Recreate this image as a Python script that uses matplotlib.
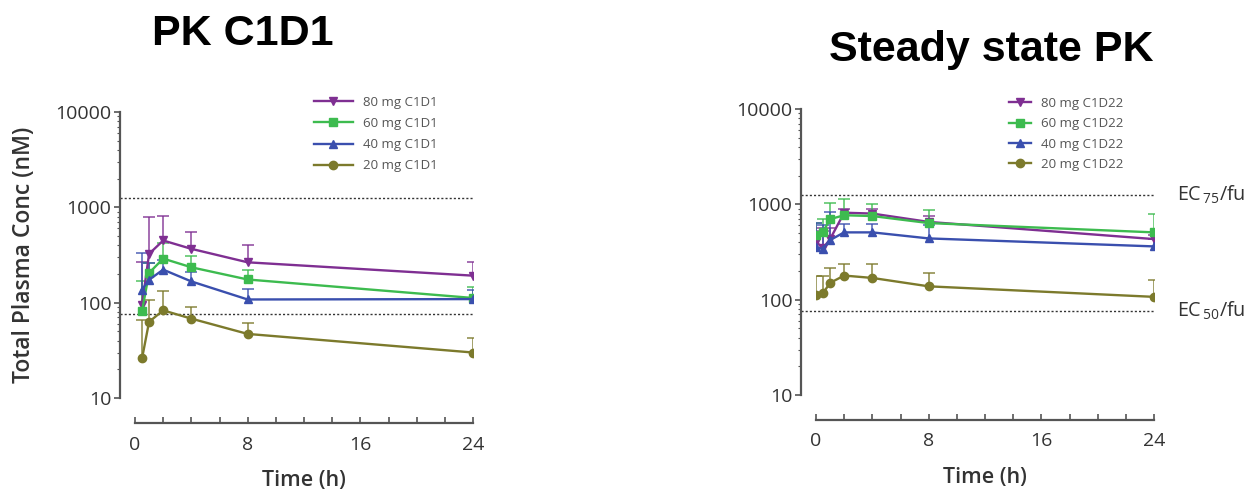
import matplotlib
matplotlib.use("Agg")
import matplotlib.pyplot as plt
from matplotlib.ticker import LogLocator, NullFormatter, MultipleLocator, FixedLocator
import numpy as np

plt.rcParams['font.family'] = ['Open Sans', 'DejaVu Sans']
plt.rcParams['mathtext.fontset'] = 'custom'
plt.rcParams['mathtext.rm'] = 'Open Sans'
plt.rcParams['mathtext.it'] = 'Open Sans'

# ---------------- data ----------------
time_c1d1 = [0.5, 1, 2, 4, 8, 24]
c1d1_80 = [95, 325, 449, 367, 265, 192]
c1d1_80_up = [264, 790, 810, 550, 400, 265]
c1d1_60 = [82, 205, 290, 235, 175, 112]
c1d1_60_up = [167, 260, 425, 307, 222, 146]
c1d1_40 = [137, 174, 222, 167, 108, 109]
c1d1_40_up = [328, 260, 280, 210, 140, 135]
c1d1_20 = [26, 63, 83, 68, 47, 30]
c1d1_20_up = [66, 107, 131, 91, 61, 43]

time_c1d22 = [0, 0.5, 1, 2, 4, 8, 24]
c1d22_80 = [405, 346, 432, 817, 800, 654, 432]
c1d22_80_up = [560, 520, 560, 900, 888, 754, 480]
c1d22_60 = [476, 515, 700, 768, 754, 636, 508]
c1d22_60_up = [644, 710, 1040, 1144, 1000, 865, 787]
c1d22_40 = [354, 340, 422, 508, 508, 439, 362]
c1d22_40_up = [644, 609, 830, 620, 620, 600, 430]
c1d22_20 = [113, 117, 150, 179, 169, 138, 107]
c1d22_20_up = [177, 177, 214, 237, 237, 190, 159]

ec75_fu = 1250
ec50_fu = 76

labels_c1d1 = ['80 mg C1D1', '60 mg C1D1', '40 mg C1D1', '20 mg C1D1']
labels_c1d22 = ['80 mg C1D22', '60 mg C1D22', '40 mg C1D22', '20 mg C1D22']

colors = ['#7f2f92', '#3dbb4f', '#3a4fae', '#7c7a2c']
markers = ['v', 's', '^', 'o']
msizes = [6, 6, 6, 6]

# ---------------- figure ----------------
fig = plt.figure(figsize=(12.51, 4.92), dpi=100)
W, H = 1251, 492

def make_ax(x0, x1, y_top, y_bot):
    return fig.add_axes([x0 / W, 1 - y_bot / H, (x1 - x0) / W, (y_bot - y_top) / H])

axL = make_ax(135, 473, 112, 398)
axR = make_ax(816, 1154, 109, 395)

def style(ax, ylabel):
    ax.set_yscale('log')
    ax.set_ylim(10, 10000)
    ax.set_xlim(0, 24)
    for s in ['top', 'right']:
        ax.spines[s].set_visible(False)
    ax.spines['left'].set_position(('outward', 11))
    ax.spines['bottom'].set_position(('outward', 18))
    for s in ['left', 'bottom']:
        ax.spines[s].set_color('#555555')
        ax.spines[s].set_linewidth(1.6)
    ax.yaxis.set_major_locator(FixedLocator([10, 100, 1000, 10000]))
    ax.yaxis.set_minor_locator(LogLocator(base=10, subs=np.arange(2, 10)))
    ax.yaxis.set_minor_formatter(NullFormatter())
    ax.set_yticklabels(['10', '100', '1000', '10000'])
    ax.xaxis.set_major_locator(FixedLocator([0, 8, 16, 24]))
    ax.xaxis.set_minor_locator(MultipleLocator(2))
    ax.tick_params(axis='y', which='major', direction='out', length=4, width=1.2,
                   color='#555555', labelsize=14, labelcolor='#333333', pad=2)
    ax.tick_params(axis='y', which='minor', direction='out', length=2, width=0.8,
                   color='#555555')
    ax.tick_params(axis='x', which='both', direction='in', length=4, width=1.2,
                   color='#555555', labelsize=14, labelcolor='#333333', pad=9)
    ax.set_xlabel('Time (h)', fontsize=15.5, fontweight='semibold', color='#333333',
                  labelpad=12)
    if ylabel:
        ax.set_ylabel(ylabel, fontsize=16.5, fontweight='semibold', color='#333333',
                      labelpad=14)
    ax.patch.set_alpha(0)

def draw(ax, t, series, ups, labels):
    for (y, up, c, m, ms, lab) in zip(series, ups, colors, markers, msizes, labels):
        ax.vlines(t, y, up, colors=c, linewidth=1.4, alpha=0.7, zorder=2)
        ax.plot(t, up, ls='none', marker='_', ms=9, mew=1.4, color=c, alpha=0.7, zorder=2)
        ax.plot(t, y, color=c, marker=m, ms=ms, lw=1.7, label=lab, zorder=3)
    ax.axhline(ec75_fu, xmin=-0.045, xmax=1.0, color='#333333', lw=1.0,
               ls=(0, (1.5, 1.5)), clip_on=False, zorder=1)
    ax.axhline(ec50_fu, xmin=-0.045, xmax=1.0, color='#333333', lw=1.0,
               ls=(0, (1.5, 1.5)), clip_on=False, zorder=1)

style(axL, 'Total Plasma Conc (nM)')
style(axR, None)

draw(axL, time_c1d1, [c1d1_80, c1d1_60, c1d1_40, c1d1_20],
     [c1d1_80_up, c1d1_60_up, c1d1_40_up, c1d1_20_up], labels_c1d1)
draw(axR, time_c1d22, [c1d22_80, c1d22_60, c1d22_40, c1d22_20],
     [c1d22_80_up, c1d22_60_up, c1d22_40_up, c1d22_20_up], labels_c1d22)

legL = axL.legend(loc='upper left', bbox_to_anchor=(0.515, 1.075), frameon=False,
                  fontsize=9.5, handlelength=2.9, handletextpad=0.75,
                  labelspacing=0.62, borderaxespad=0)
for txt in legL.get_texts():
    txt.set_color('#555555')
legR = axR.legend(loc='upper left', bbox_to_anchor=(0.555, 1.06), frameon=False,
                  fontsize=9.5, handlelength=1.7, handletextpad=0.75,
                  labelspacing=0.55, borderaxespad=0)
for txt in legR.get_texts():
    txt.set_color('#555555')

# EC labels on right panel
axR.text(1.068, ec75_fu, r'$\mathrm{EC}_{\,75}\mathrm{/fu}$', transform=axR.get_yaxis_transform(),
         fontsize=14.2, color='#333333', va='center', ha='left')
axR.text(1.068, ec50_fu, r'$\mathrm{EC}_{\,50}\mathrm{/fu}$', transform=axR.get_yaxis_transform(),
         fontsize=14.2, color='#333333', va='center', ha='left')

# titles
fig.text(243 / W, 1 - 34 / H, 'PK C1D1', fontsize=31, fontweight='bold',
         family='Liberation Sans', ha='center', va='center')
fig.text(991 / W, 1 - 50 / H, 'Steady state PK', fontsize=31, fontweight='bold',
         family='Liberation Sans', ha='center', va='center')

fig.savefig('out.png', dpi=100)
